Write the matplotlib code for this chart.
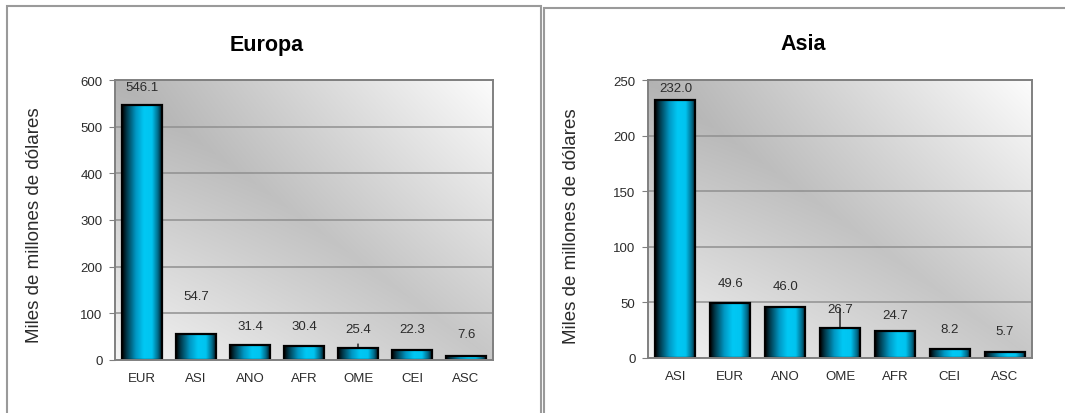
import matplotlib
matplotlib.use("Agg")
import matplotlib.pyplot as plt
import numpy as np
from matplotlib.colors import LinearSegmentedColormap
from matplotlib.patches import Rectangle

plt.rcParams["font.family"] = ["Liberation Sans", "DejaVu Sans"]

# --- data -------------------------------------------------------------
europa_regions = ["EUR", "ASI", "ANO", "AFR", "OME", "CEI", "ASC"]
europa_values = [546.1, 54.7, 31.4, 30.4, 25.4, 22.3, 7.6]

asia_regions = ["ASI", "EUR", "ANO", "OME", "AFR", "CEI", "ASC"]
asia_values = [232.0, 49.6, 46.0, 26.7, 24.7, 8.2, 5.7]

# label offsets above bar top (points), labels were moved by hand in the original
europa_label_off = [13, 28, 14, 14, 14, 15, 16]
asia_label_off = [9, 14, 15, 14, 11, 14, 15]

TEXT = "#2b2b2b"
GRID = "#909090"

bar_cmap = LinearSegmentedColormap.from_list(
    "bar",
    [(0.0, "#000000"), (0.12, "#003a4c"), (0.35, "#0098c4"),
     (0.55, "#00c8f4"), (0.75, "#00c4f0"), (0.9, "#006c8c"), (1.0, "#001a22")],
)


def background(ax):
    u = np.linspace(0, 1, 300)
    v = np.linspace(0, 1, 300)
    uu, vv = np.meshgrid(u, v)
    d = uu + vv - 1
    light = np.where(d > 0, 0.21, 0.18)
    val = 0.78 + light * np.abs(d) ** 1.0 - 0.08 * (1 - uu) * vv
    img = np.dstack([val, val, val]).clip(0, 1)
    ax.imshow(img, extent=(0, 1, 0, 1), transform=ax.transAxes,
              origin="lower", aspect="auto", zorder=0, interpolation="bilinear")


def shade_bars(ax, bars):
    grad = np.linspace(0, 1, 256).reshape(1, -1)
    for bar in bars:
        x0, y0 = bar.get_x(), bar.get_y()
        w, h = bar.get_width(), bar.get_height()
        im = ax.imshow(grad, cmap=bar_cmap, aspect="auto",
                       extent=(x0, x0 + w, y0, y0 + h), zorder=2,
                       interpolation="bilinear")
        im.set_clip_path(bar)


def draw_panel(ax, regions, values, offsets, ymax, ystep, leader):
    x = np.arange(len(regions))
    background(ax)
    bars = ax.bar(x, values, width=0.73, facecolor="none",
                  edgecolor="black", linewidth=1.6, zorder=3)
    shade_bars(ax, bars)

    for i, (val, off) in enumerate(zip(values, offsets)):
        kw = {}
        if regions[i] in leader:
            kw["arrowprops"] = dict(arrowstyle="-", color="black", lw=0.9,
                                    patchA=None, shrinkA=leader[regions[i]],
                                    shrinkB=0)
        ax.annotate(f"{val:.1f}", xy=(i, val), xytext=(0, off),
                    textcoords="offset points", ha="center", va="center",
                    fontsize=9.5, color=TEXT, zorder=4, **kw)

    ax.set_xlim(-0.5, len(regions) - 0.5)
    ax.set_ylim(0, ymax)
    ax.set_yticks(np.arange(0, ymax + 1, ystep))
    ax.set_xticks(x)
    ax.set_xticklabels(regions)
    ax.yaxis.grid(True, color=GRID, linewidth=1.1)
    ax.set_axisbelow(True)
    for side in ("top", "right", "bottom", "left"):
        ax.spines[side].set_color("#808080")
        ax.spines[side].set_linewidth(1.4)
        ax.spines[side].set_zorder(5)
    ax.tick_params(axis="y", labelsize=9.5, colors=TEXT, length=4,
                   color="#808080", pad=5)
    ax.tick_params(axis="x", labelsize=9.5, colors=TEXT, length=0, pad=9)


fig = plt.figure(figsize=(10.65, 4.14), dpi=100)

# outer frames of the two pasted charts
W, H = 1065, 414
fig.patches.append(Rectangle((7 / W, -0.1), (541 - 7) / W, 1.1 - 7 / H,
                             transform=fig.transFigure, fill=False,
                             edgecolor="#9a9a9a", linewidth=1.5))
fig.patches.append(Rectangle((544 / W, -0.1), 0.6, 1.1 - 9 / H,
                             transform=fig.transFigure, fill=False,
                             edgecolor="#9a9a9a", linewidth=1.5))

ax1 = fig.add_axes([115 / W, 1 - 361 / H, (493 - 115) / W, (361 - 81) / H])
ax2 = fig.add_axes([648 / W, 1 - 359 / H, (1032 - 648) / W, (359 - 81) / H])

draw_panel(ax1, europa_regions, europa_values, europa_label_off, 600, 100,
           {"OME": 11})
draw_panel(ax2, asia_regions, asia_values, asia_label_off, 250, 50,
           {"OME": 0})

fig.text(267 / W, 1 - 45 / H, "Europa", ha="center", va="center",
         fontsize=15.5, fontweight="bold", color="black")
fig.text(803 / W, 1 - 45 / H, "Asia", ha="center", va="center",
         fontsize=15.5, fontweight="bold", color="black")
fig.text(35 / W, 1 - 225 / H, "Miles de millones de dólares", rotation=90,
         ha="center", va="center", fontsize=13.5, color=TEXT)
fig.text(572 / W, 1 - 226 / H, "Miles de millones de dólares", rotation=90,
         ha="center", va="center", fontsize=13.5, color=TEXT)

fig.savefig("out.png", dpi=100)
